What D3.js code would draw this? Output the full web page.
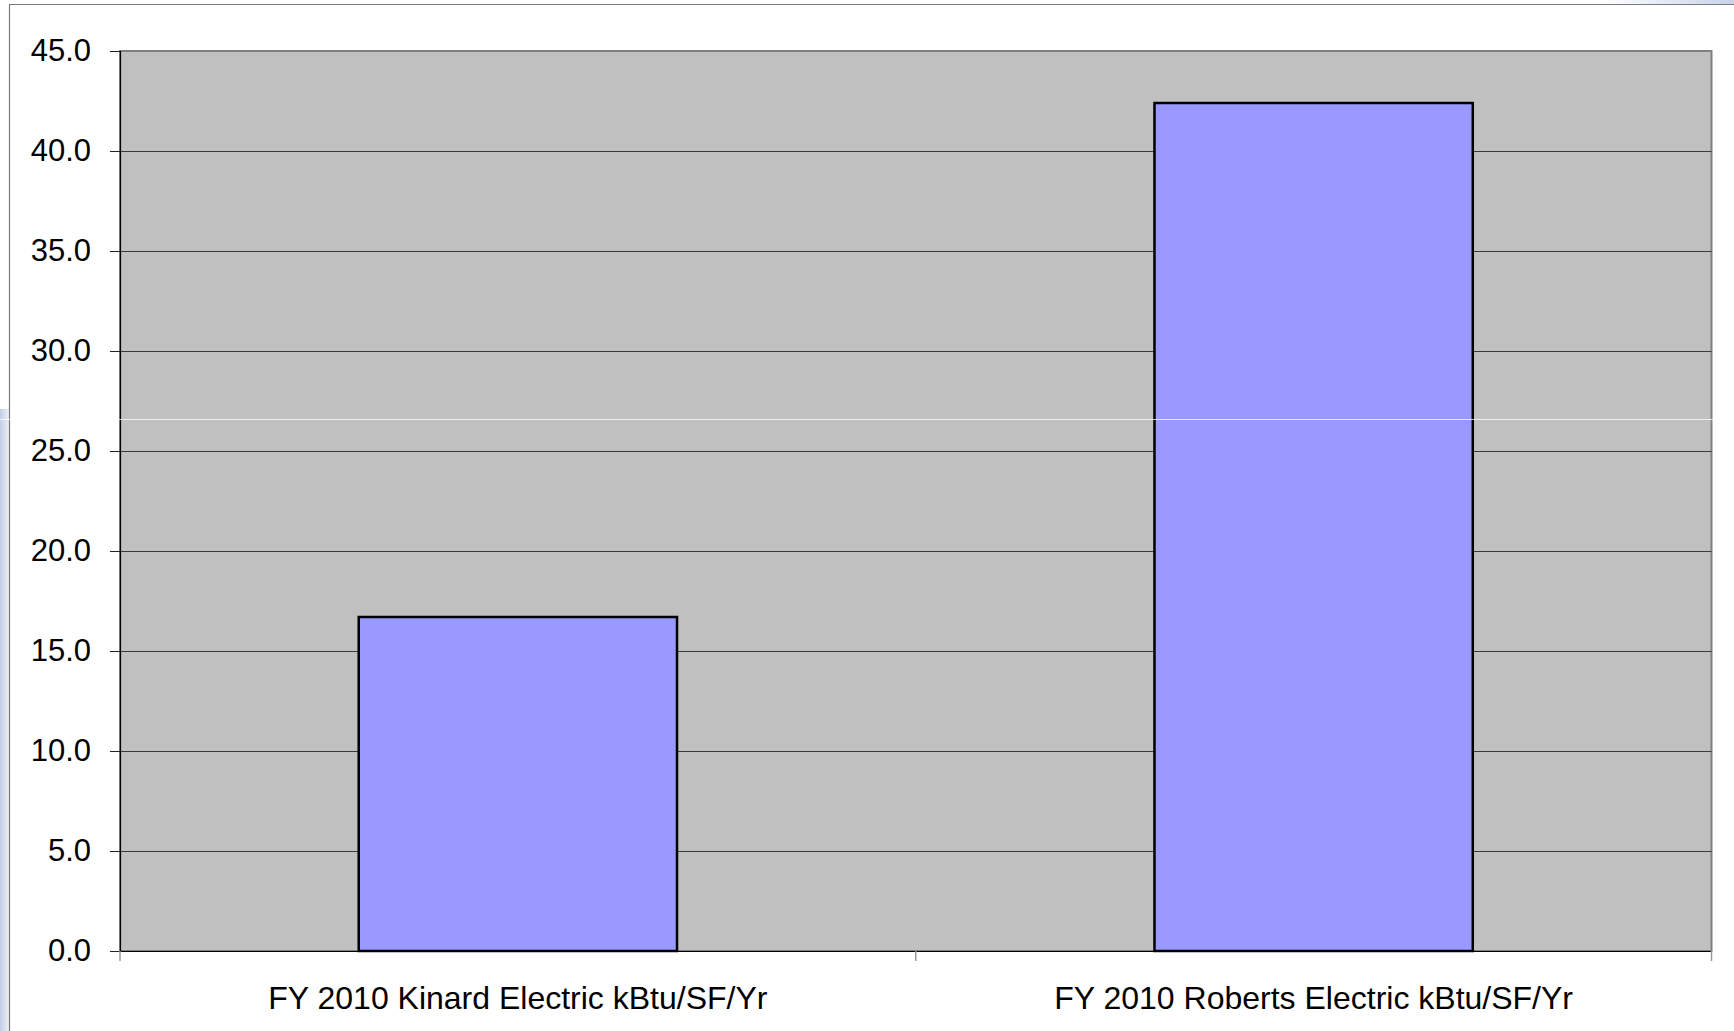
<!DOCTYPE html>
<html>
<head>
<meta charset="utf-8">
<script src="https://cdn.jsdelivr.net/npm/d3@7"></script>
<style>
  html, body { margin: 0; padding: 0; background: #ffffff; }
  svg { display: block; }
  text { font-family: "Liberation Sans", Arial, sans-serif; fill: #000; }
</style>
</head>
<body>
<script>
// ---- data ----
const categories = ["FY 2010 Kinard Electric kBtu/SF/Yr", "FY 2010 Roberts Electric kBtu/SF/Yr"];
const values = [16.7, 42.4];
const yTicks = [0, 5, 10, 15, 20, 25, 30, 35, 40, 45];

// ---- layout ----
const W = 1734, H = 1031;
const plot = { left: 120, right: 1711.5, top: 51, bottom: 951 };

const svg = d3.select("body").append("svg").attr("width", W).attr("height", H);

const defs = svg.append("defs");
const gL = defs.append("linearGradient").attr("id", "gl").attr("x1", "0").attr("x2", "1").attr("y1", "0").attr("y2", "0");
gL.append("stop").attr("offset", "0").attr("stop-color", "#c4cde6");
gL.append("stop").attr("offset", "1").attr("stop-color", "#eef0f8");
const gT = defs.append("linearGradient").attr("id", "gt").attr("x1", "0").attr("x2", "1").attr("y1", "0").attr("y2", "0");
gT.append("stop").attr("offset", "0").attr("stop-color", "#ffffff");
gT.append("stop").attr("offset", "1").attr("stop-color", "#c8d2ea");

// slide background remnants
svg.append("rect").attr("x", 0).attr("y", 409).attr("width", 9).attr("height", H - 409).attr("fill", "url(#gl)");
svg.append("rect").attr("x", 1600).attr("y", 0).attr("width", W - 1600).attr("height", 4).attr("fill", "url(#gt)");

// outer chart frame
svg.append("line").attr("x1", 9).attr("x2", W).attr("y1", 4.5).attr("y2", 4.5).attr("stroke", "#7a7a7a").attr("stroke-width", 1.2);
svg.append("line").attr("x1", 9.5).attr("x2", 9.5).attr("y1", 4).attr("y2", H).attr("stroke", "#7a7a7a").attr("stroke-width", 1.2);

// scales
const x = d3.scaleBand().domain(categories).range([plot.left, plot.right]).padding(0);
const y = d3.scaleLinear().domain([0, 45]).range([plot.bottom, plot.top]);

// plot area
svg.append("rect")
  .attr("x", plot.left).attr("y", plot.top)
  .attr("width", plot.right - plot.left).attr("height", plot.bottom - plot.top)
  .attr("fill", "#c0c0c0").attr("stroke", "#808080").attr("stroke-width", 2);

// gridlines
svg.append("g").selectAll("line").data(yTicks.filter(d => d > 0 && d < 45)).join("line")
  .attr("x1", plot.left).attr("x2", plot.right)
  .attr("y1", d => Math.round(y(d)) + 0.5).attr("y2", d => Math.round(y(d)) + 0.5)
  .attr("stroke", "#3a3a3a").attr("stroke-width", 1);

// bars
const bw = x.bandwidth() * 0.4;
svg.append("g").selectAll("rect").data(values).join("rect")
  .attr("x", (d, i) => x(categories[i]) + (x.bandwidth() - bw) / 2)
  .attr("y", d => y(d))
  .attr("width", bw)
  .attr("height", d => y(0) - y(d))
  .attr("fill", "#9999ff")
  .attr("stroke", "#000")
  .attr("stroke-width", 2.5);

// y axis
const yAxis = d3.axisLeft(y).tickValues(yTicks).tickFormat(d3.format(".1f")).tickSize(10).tickPadding(19);
const gy = svg.append("g").attr("transform", `translate(${plot.left},0)`).call(yAxis);
gy.select(".domain").attr("stroke", "#000").attr("stroke-width", 1.2);
gy.selectAll(".tick line").attr("stroke", "#222");
gy.selectAll(".tick text").attr("font-size", 31).attr("font-family", "Liberation Sans, Arial, sans-serif").attr("fill", "#000");

// x axis
const xAxis = d3.axisBottom(x).tickValues([]).tickSizeOuter(0);
const gx = svg.append("g").attr("transform", `translate(0,${plot.bottom})`).call(xAxis);
gx.select(".domain").attr("stroke", "#000").attr("stroke-width", 1.2);
// category boundary ticks
const bounds = [plot.left, ...categories.slice(1).map(c => x(c)), plot.right];
gx.selectAll("line.bt").data(bounds).join("line").attr("class", "bt")
  .attr("x1", d => d).attr("x2", d => d).attr("y1", 0).attr("y2", 10)
  .attr("stroke", "#999").attr("stroke-width", 1.5);
gx.selectAll("text.cat").data(categories).join("text").attr("class", "cat")
  .attr("x", d => x(d) + x.bandwidth() / 2)
  .attr("y", 58)
  .attr("text-anchor", "middle")
  .attr("font-size", 32)
  .text(d => d);

// horizontal light artifact line
svg.append("line").attr("x1", 0).attr("x2", W).attr("y1", 419.5).attr("y2", 419.5)
  .attr("stroke", "#ffffff").attr("stroke-opacity", 0.75).attr("stroke-width", 1.2);
</script>
</body>
</html>
